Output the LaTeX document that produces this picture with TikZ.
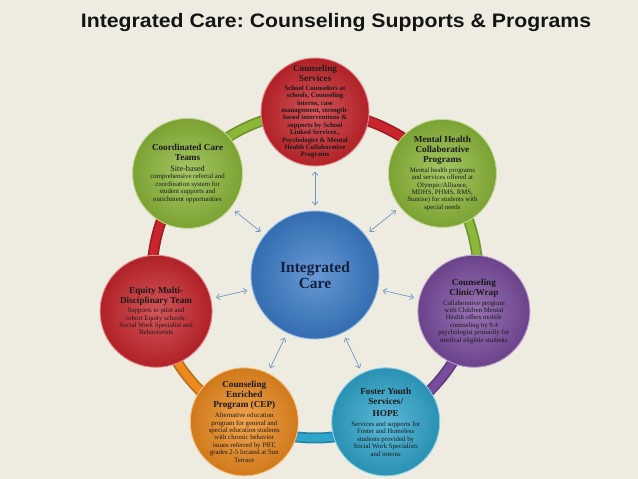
\documentclass[tikz,border=0pt]{standalone}
\usepackage{fontspec}
\setmainfont{Liberation Serif}
\newfontfamily\titlefont{Liberation Sans}
\usetikzlibrary{arrows.meta}
\frenchspacing
\definecolor{bg}{HTML}{EEEBE1}
\definecolor{cred}{HTML}{C8262C}
\definecolor{cgreen}{HTML}{8CB83A}
\definecolor{cpurple}{HTML}{7A4C9E}
\definecolor{ccyan}{HTML}{2FA5CC}
\definecolor{corange}{HTML}{EC8A1E}
\definecolor{cblue}{HTML}{3B7CC8}
\definecolor{txt}{HTML}{1A1A1A}
\definecolor{navy}{HTML}{15203A}
\definecolor{arrowc}{HTML}{6E98C6}
\newcommand\ttl[1]{{\fontsize{9.2}{10}\selectfont\bfseries #1\par}}
\newcommand\bdy[1]{{\fontsize{6.8}{7.4}\selectfont #1\par}}
\tikzset{
  orb/.style={circle, inner sep=0pt, inner color=#1!78!white, outer color=#1!88!black,
              draw=#1!55!white, line width=0.9pt},
  txtn/.style={text width=104pt, align=flush center, inner sep=0pt, text=txt},
  link/.style={arrowc, line width=0.7pt, {Straight Barb[length=3.5pt,width=6pt]}-{Straight Barb[length=3.5pt,width=6pt]},
               shorten <=5pt, shorten >=5pt},
  band/.style={line width=11pt, #1!80!black},
  bandin/.style={line width=7.5pt, #1},
}
\begin{document}
\begin{tikzpicture}[x=1pt,y=1pt]
\useasboundingbox (0,0) rectangle (638,-479);
\fill[bg] (0,0) rectangle (638,-479);
\coordinate (C) at (315,-275);
% ring
\foreach \a/\c in {90/cred, 38.571/cgreen, -12.857/cpurple, -64.286/ccyan, -115.714/corange, -167.143/cred, -218.571/cgreen}{
  \draw[band=\c] (C) ++(\a:163pt) arc[start angle=\a, end angle=\a-51.43, radius=163pt];
  \draw[bandin=\c] (C) ++(\a:163pt) arc[start angle=\a, end angle=\a-51.43, radius=163pt];
}
% title
\node[font=\titlefont\bfseries\fontsize{19.5}{21}\selectfont, text=black!92, xscale=1.09] (title) at (336,-22.5)
  {Integrated Care: Counseling Supports \& Programs};
% circles
\node[orb=cblue, minimum size=128pt] (ic) at (C) {};
\path (C) ++(90:163pt) node[orb=cred, minimum size=108pt] (cs) {};
\path (C) ++(38.571:163pt) node[orb=cgreen, minimum size=108pt] (mh) {};
\path (C) ++(-12.857:163pt) node[orb=cpurple, minimum size=112pt] (cw) {};
\path (C) ++(-64.286:163pt) node[orb=ccyan, minimum size=108pt] (fy) {};
\path (C) ++(-115.714:163pt) node[orb=corange, minimum size=108pt] (cep) {};
\path (C) ++(-167.143:163pt) node[orb=cred, minimum size=112pt] (eq) {};
\path (C) ++(141.429:163pt) node[orb=cgreen, minimum size=110pt] (cc) {};
% arrows
\foreach \n in {cs,mh,cw,fy,cep,eq,cc}{ \draw[link] (ic) -- (\n); }
% texts
\node[txtn, text=navy, font=\fontsize{15.5}{16}\selectfont\bfseries] (ic-t) at (ic) {Integrated\\Care};
\node[txtn] (cs-t) at (cs) {\ttl{Counseling\\Services}\vspace{1pt}\bdy{\bfseries School Counselors at\\schools, Counseling\\interns, case\\management, strength-\\based interventions \&\\supports by School\\Linked Services.,\\Psychologist \& Mental\\Health Collaborative\\Programs}};
\node[txtn] (mh-t) at (mh) {\ttl{Mental Health\\Collaborative\\Programs}\vspace{2.5pt}\bdy{Mental health programs\\and services offered at\\Olympic/Alliance,\\MDHS, PHMS, RMS,\\Sunrise) for students with\\special needs}};
\node[txtn] (cc-t) at (cc) {\ttl{Coordinated Care\\Teams}\vspace{2pt}{\fontsize{8.3}{9}\selectfont Site-based\par}\bdy{comprehensive referral and\\coordination system for\\student supports and\\enrichment opportunities}};
\node[txtn] (eq-t) at (eq) {\ttl{Equity Multi-\\Disciplinary Team}\vspace{1.5pt}\bdy{Supports to pilot and\\cohort Equity schools-\\Social Work Specialist and\\Behaviorists}};
\node[txtn] (cw-t) at (cw) {\ttl{Counseling\\Clinic/Wrap}\vspace{2.5pt}\bdy{Collaborative program\\with Children Mental\\Health offers mobile\\counseling by 9.4\\psychologist primarily for\\medical eligible students}};
\node[txtn] (cep-t) at (cep) {\ttl{Counseling\\Enriched\\Program (CEP)}\vspace{2.5pt}\bdy{Alternative education\\program for general and\\special education students\\with chronic behavior\\issues referred by PBT,\\grades 2-5 located at Sun\\Terrace}};
\node[txtn] (fy-t) at (fy) {\ttl{Foster Youth\\Services/\\[2pt]HOPE}\vspace{3pt}\bdy{Services and supports for\\Foster and Homeless\\students provided by\\Social Work Specialists\\and interns}};
\end{tikzpicture}
\end{document}
